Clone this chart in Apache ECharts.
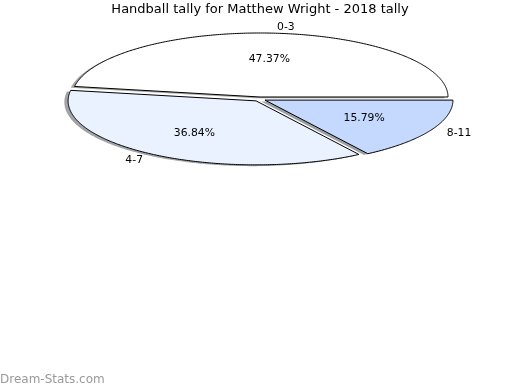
<!DOCTYPE html>
<html>
<head>
<meta charset="utf-8">
<script src="https://cdn.jsdelivr.net/npm/echarts@6/dist/echarts.min.js"></script>
<style>html,body{margin:0;padding:0;background:#fff}#c{width:520px;height:390px}</style>
</head>
<body>
<div id="c"></div>
<script>
const categories = ['0-3', '4-7', '8-11'];
const values = [9, 7, 3];
const sliceColors = ['#ffffff', '#eaf1ff', '#c5d9ff'];
const shadowColors = ['rgba(77,77,77,0.5)', 'rgba(70,72,77,0.5)', 'rgba(59,65,77,0.5)'];
const titleText = 'Handball tally for Matthew Wright - 2018 tally';
const watermark = 'Dream-Stats.com';

const EXPLODE = 0.033;
const LABEL_DIST = 1.1;
const PCT_DIST = 0.6;
const SHADOW_OFF = [-0.02, -0.02];
const FONT = '"DejaVu Sans", sans-serif';

const total = values.reduce((a, b) => a + b, 0);
const angles = [];
let acc = 0;
values.forEach(v => {
  const a0 = acc / total * 2 * Math.PI;
  acc += v;
  const a1 = acc / total * 2 * Math.PI;
  angles.push([a0, a1]);
});

function slicePoints(api, idx, off) {
  const [a0, a1] = angles[idx];
  const mid = (a0 + a1) / 2;
  const ox = EXPLODE * Math.cos(mid) + off[0];
  const oy = EXPLODE * Math.sin(mid) + off[1];
  const pts = [api.coord([ox, oy])];
  const n = Math.max(8, Math.ceil((a1 - a0) / 0.01));
  for (let i = 0; i <= n; i++) {
    const t = a0 + (a1 - a0) * i / n;
    pts.push(api.coord([ox + Math.cos(t), oy + Math.sin(t)]));
  }
  return pts;
}

const chart = echarts.init(document.getElementById('c'), null, {renderer: 'canvas'});
const data = categories.map((c, i) => ({name: c, value: [i, values[i]]}));

chart.setOption({
  animation: false,
  backgroundColor: '#ffffff',
  title: {
    text: titleText,
    left: 'center',
    top: 3,
    padding: 0,
    textStyle: {fontSize: 13, fontWeight: 'normal', color: '#000', fontFamily: FONT}
  },
  graphic: [{
    type: 'text',
    left: 0,
    top: 374,
    style: {text: watermark, fill: '#9a9a9a', font: '12px ' + FONT}
  }],
  grid: {left: 24.5, top: 19.1, width: 470, height: 160, show: false},
  xAxis: {type: 'value', min: -1.25, max: 1.25, show: false},
  yAxis: {type: 'value', min: -1.25, max: 1.25, show: false},
  series: [
    {
      type: 'custom',
      z: 1,
      clip: false,
      data: data,
      renderItem: function (params, api) {
        const idx = params.dataIndex;
        return {
          type: 'polygon',
          shape: {points: slicePoints(api, idx, SHADOW_OFF)},
          style: {fill: shadowColors[idx], stroke: null}
        };
      }
    },
    {
      type: 'custom',
      z: 2,
      clip: false,
      data: data,
      renderItem: function (params, api) {
        const idx = params.dataIndex;
        const [a0, a1] = angles[idx];
        const mid = (a0 + a1) / 2;
        const c = Math.cos(mid), s = Math.sin(mid);
        const lp = api.coord([(EXPLODE + LABEL_DIST) * c, (EXPLODE + LABEL_DIST) * s]);
        const pp = api.coord([(EXPLODE + PCT_DIST) * c, (EXPLODE + PCT_DIST) * s]);
        const pct = (values[idx] / total * 100).toFixed(2) + '%';
        return {
          type: 'group',
          children: [
            {
              type: 'polygon',
              shape: {points: slicePoints(api, idx, [0, 0])},
              style: {fill: sliceColors[idx], stroke: '#000', lineWidth: 1, lineJoin: 'miter'}
            },
            {
              type: 'text',
              style: {
                text: categories[idx], x: lp[0], y: lp[1],
                fill: '#000', font: '10.8px ' + FONT,
                align: c >= 0 ? 'left' : 'right', verticalAlign: 'middle'
              }
            },
            {
              type: 'text',
              style: {
                text: pct, x: pp[0], y: pp[1],
                fill: '#000', font: '10.8px ' + FONT,
                align: 'center', verticalAlign: 'middle'
              }
            }
          ]
        };
      }
    }
  ]
});
</script>
</body>
</html>
